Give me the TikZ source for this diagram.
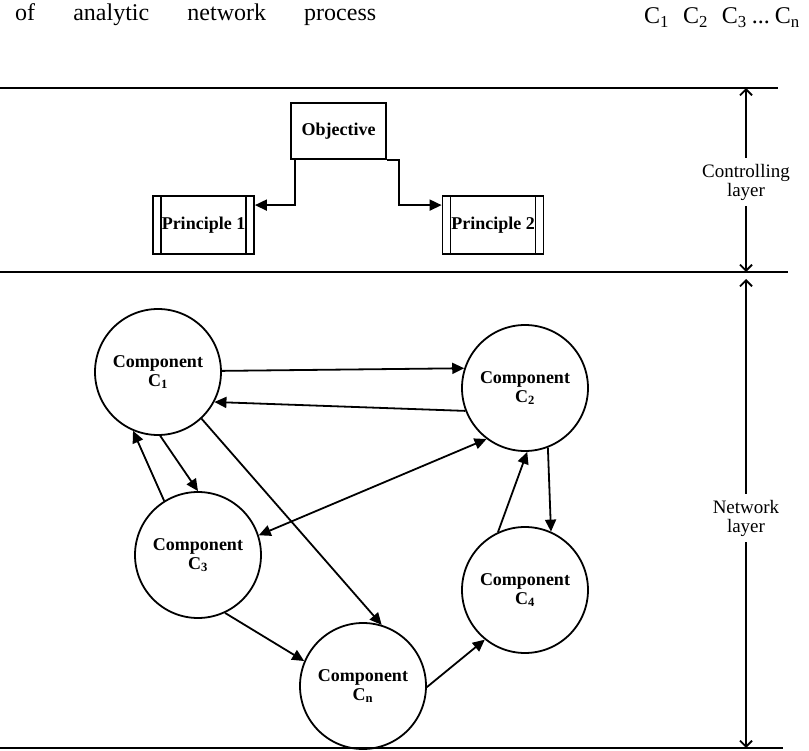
\documentclass[tikz,border=0pt]{standalone}
\usepackage{fontspec}
\setmainfont{Liberation Serif}
\usetikzlibrary{arrows.meta,positioning}
\tikzset{
  every node/.style={
    font=\fontsize{18}{19}\selectfont
  },
  component/.style={
    shape=circle,
    draw,
    line width=1.8pt,
    minimum size=126pt,
    inner sep=0pt,
    align=center,
    font=\fontsize{18}{19}\selectfont\bfseries
  },
  objective/.style={
    shape=rectangle,
    draw,
    line width=1.8pt,
    minimum width=95pt,
    minimum height=56pt,
    inner sep=0pt,
    font=\fontsize{18}{19}\selectfont\bfseries
  },
  principle/.style={
    shape=rectangle,
    draw,
    line width=1.8pt,
    minimum width=101pt,
    minimum height=58pt,
    inner sep=0pt,
    font=\fontsize{18}{19}\selectfont\bfseries,
    path picture={
      \draw[line width=1.8pt]
        ([xshift=8pt]path picture bounding box.north west) -- ([xshift=8pt]path picture bounding box.south west)
        ([xshift=-8pt]path picture bounding box.north east) -- ([xshift=-8pt]path picture bounding box.south east);
    }
  },
  link/.style={
    line width=1.8pt,
    -{Triangle[length=12pt,width=11pt]}
  },
  twoway/.style={
    line width=1.8pt,
    {Triangle[length=12pt,width=11pt]}-{Triangle[length=12pt,width=11pt]}
  },
  layer/.style={
    line width=1.8pt,
    -{Straight Barb[length=6pt,width=12pt]}
  },
  layer label/.style={
    align=center,
    inner sep=6pt,
    font=\fontsize{19}{19}\selectfont
  },
  rule/.style={
    line width=1.8pt
  }
}

\begin{document}
\begin{tikzpicture}[x=1pt,y=-1pt]
  \useasboundingbox (0,0) rectangle (809,751);

  \node [anchor=base west, inner sep=0pt, font=\fontsize{24}{24}\selectfont] (caption) at (15,21)
    {\makebox[361pt][s]{of analytic network process}};
  \node [anchor=base east, inner sep=0pt, font=\fontsize{24}{24}\selectfont] (sequence) at (800,24)
    {C\textsubscript{1}\hspace{14pt}C\textsubscript{2}\hspace{14pt}C\textsubscript{3}\hspace{5pt}...\hspace{5pt}C\textsubscript{n}};

  \draw [rule] (0,88) -- (778,88);
  \draw [rule] (0,272) -- (788,272);
  \draw [rule] (0,748) -- (783,748);

  \node [objective] (obj) at (338.5,131) {Objective};
  \node [principle] (p1) at (203.5,225) {Principle 1};
  \node [principle] (p2) at (493,225) {Principle 2};
  \draw [link] ([xshift=5pt]obj.south west) |- ([yshift=-10pt]p1.north east);
  \draw [link] (obj.south east) -- ++(12,0) |- ([yshift=-10pt]p2.north west);

  \coordinate (ctltop) at (746,88);
  \coordinate (ctlbot) at (746,272);
  \coordinate (nettop) at (746,279);
  \coordinate (netbot) at (746,748);
  \node [layer label] (ctl) at (746,182) {Controlling\\layer};
  \node [layer label] (net) at (746,518) {Network\\layer};
  \draw [layer] (ctl) -- (ctltop);
  \draw [layer] (ctl) -- (ctlbot);
  \draw [layer] (net) -- (nettop);
  \draw [layer] (net) -- (netbot);

  \node [component] (c1) at (158,372) {Component\\C\textsubscript{1}};
  \node [component] (c2) at (525,388) {Component\\C\textsubscript{2}};
  \node [component] (c3) at (198,555) {Component\\C\textsubscript{3}};
  \node [component] (c4) at (525,590) {Component\\C\textsubscript{4}};
  \node [component] (cn) at (363,686) {Component\\C\textsubscript{n}};

  \draw [link] (c1.1) -- (c2.162);
  \draw [link] (c2.201) -- (c1.332);
  \draw [link] (c3.122) -- (c1.247);
  \draw [link] (c1.272) -- (c3.90);
  \draw [link] (c1.313) -- (cn.73);
  \draw [twoway] (c3.18) -- (c2.233);
  \draw [link] (c3.295) -- (cn.157);
  \draw [link] (cn.359) -- (c4.231);
  \draw [link] (c4.115) -- (c2.272);
  \draw [link] (c2.291) -- (c4.66);
\end{tikzpicture}
\end{document}
